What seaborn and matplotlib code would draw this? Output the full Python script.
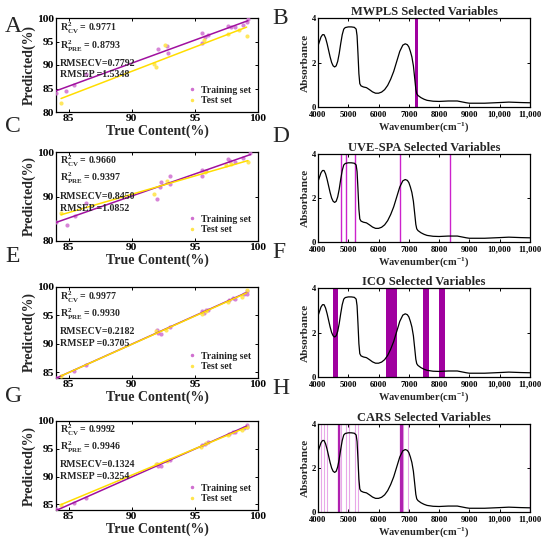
import numpy as np
import pandas as pd

import matplotlib
matplotlib.use('Agg')
import matplotlib.pyplot as plt
from matplotlib.lines import Line2D
import seaborn as sns

# ---- prediction panels (true vs predicted, %) ----
a_train_x = [84.0, 84.8, 85.4, 86.4, 92.1, 92.8, 92.9, 95.6, 95.6, 95.8, 96.0, 97.6, 97.9, 98.2, 98.8, 99.1, 99.2]
a_train_y = [84.0, 84.4, 85.8, 88.1, 93.3, 94.0, 92.5, 96.8, 94.7, 96.0, 96.4, 98.2, 98.0, 98.1, 98.6, 99.2, 99.7]
a_test_x = [84.4, 91.8, 91.9, 92.6, 95.7, 97.6, 98.5, 99.1]
a_test_y = [82.0, 90.2, 89.6, 94.3, 95.4, 96.7, 97.5, 96.2]

c_train_x = [84.0, 84.9, 85.5, 86.4, 92.0, 92.2, 92.3, 93.0, 93.0, 95.6, 95.6, 95.9, 97.6, 97.8, 98.2, 98.8, 99.4]
c_train_y = [84.3, 83.6, 85.7, 88.6, 89.4, 92.2, 93.2, 94.7, 92.9, 96.0, 94.5, 95.8, 98.5, 97.9, 97.8, 98.7, 99.8]
c_test_x = [84.4, 91.8, 92.8, 95.8, 97.5, 97.9, 99.2]
c_test_y = [86.2, 90.6, 93.5, 95.4, 97.0, 97.2, 97.8]

e_train_x = [84.0, 85.4, 86.4, 92.0, 92.1, 92.3, 93.0, 95.6, 95.7, 95.9, 96.0, 97.7, 98.0, 98.2, 98.9, 99.1, 99.1]
e_train_y = [84.0, 85.3, 86.3, 92.4, 92.0, 91.8, 93.0, 95.8, 95.4, 96.0, 95.9, 97.8, 98.0, 97.9, 98.7, 98.8, 99.3]
e_test_x = [84.4, 91.9, 92.7, 95.6, 95.9, 97.6, 98.7, 99.1]
e_test_y = [84.3, 92.2, 92.5, 95.2, 95.7, 97.4, 98.3, 99.4]

g_train_x = [84.0, 85.4, 86.4, 92.0, 92.1, 92.3, 93.0, 95.6, 95.8, 96.0, 97.7, 98.0, 98.2, 98.9, 99.1, 99.1]
g_train_y = [84.1, 85.2, 86.2, 92.2, 92.0, 91.9, 92.9, 95.7, 95.9, 96.2, 97.7, 98.0, 98.1, 98.8, 98.9, 99.2]
g_test_x = [84.4, 91.9, 92.8, 95.5, 95.9, 97.6, 98.7, 99.1]
g_test_y = [84.9, 92.3, 92.8, 95.4, 96.0, 97.4, 98.4, 98.9]

stats_a = ["0.9771", "0.8793", "0.7792", "1.5348"]
stats_c = ["0.9660", "0.9397", "0.8450", "1.0852"]
stats_e = ["0.9977", "0.9930", "0.2182", "0.3705"]
stats_g = ["0.9992", "0.9946", "0.1324", "0.3254"]

# ---- NIR spectrum ----
spectrum_wn = [4000, 4050, 4100, 4150, 4200, 4250, 4300, 4350, 4400, 4450, 4500, 4550, 4600, 4650,
               4700, 4750, 4800, 4850, 4900, 5000, 5100, 5200, 5260, 5290, 5320, 5350, 5380, 5420,
               5500, 5600, 5700, 5800, 5900, 6000, 6100, 6200, 6300, 6400, 6500, 6600, 6700, 6800,
               6880, 6950, 7000, 7050, 7100, 7150, 7200, 7230, 7260, 7300, 7400, 7500, 7600, 7800,
               8000, 8300, 8600, 8750, 8900, 9000, 9500, 10000, 10300, 10700, 11000]
spectrum_abs = [2.75, 2.95, 3.15, 3.25, 3.25, 3.1, 2.85, 2.55, 2.25, 2.0, 1.85, 1.8, 1.85, 2.05,
                2.4, 2.85, 3.25, 3.5, 3.57, 3.6, 3.6, 3.58, 3.5, 3.2, 2.4, 1.5, 1.05, 0.95,
                0.9, 0.87, 0.78, 0.68, 0.62, 0.62, 0.67, 0.78, 0.97, 1.25, 1.6, 2.05, 2.5, 2.78,
                2.84, 2.8, 2.7, 2.5, 2.25, 1.85, 1.2, 0.8, 0.6, 0.52, 0.42, 0.35, 0.3, 0.26,
                0.25, 0.27, 0.27, 0.23, 0.19, 0.17, 0.17, 0.2, 0.22, 0.2, 0.19]

# selected variables
mwpls_bands = [(7190, 7290)]
uvespa_lines = [4774, 4917, 5228, 6721, 8347]
ico_bands = [(4500, 4675), (6245, 6600), (7465, 7650), (7985, 8180)]
cars_dark = [4660, 4680, 4700, 6720, 6740, 6765, 10995]
cars_light = [4110, 4200, 4300, 4775, 4915, 5020, 5215, 5325, 6820, 6965]

train_point = '#d070d0'
train_line = '#a0109f'
test_point = '#ffe54c'
test_line = '#ffdd00'

sns.set_theme(style='ticks')
plt.rcParams['font.family'] = ['Liberation Serif', 'DejaVu Serif']
plt.rcParams['font.weight'] = 'bold'
plt.rcParams['axes.labelweight'] = 'bold'
plt.rcParams['mathtext.fontset'] = 'custom'
plt.rcParams['mathtext.rm'] = 'Liberation Serif:bold'
plt.rcParams['mathtext.it'] = 'Liberation Serif:bold'
plt.rcParams['mathtext.bf'] = 'Liberation Serif:bold'

W, H = 550, 548
fig = plt.figure(figsize=(W / 100, H / 100), dpi=100)


def box(l, t, r, b):
    return [l / W, 1 - b / H, (r - l) / W, (b - t) / H]


def style_axes(ax, tick_size, xpad=1.5):
    for s in ax.spines.values():
        s.set_linewidth(0.9)
        s.set_color('black')
    ax.tick_params(direction='in', top=True, right=True, length=2.5, width=0.7,
                   labelsize=tick_size, pad=1.5, colors='black')
    ax.tick_params(axis='x', pad=xpad)
    for lab in ax.get_xticklabels() + ax.get_yticklabels():
        lab.set_fontweight('bold')


def pred_panel(rect, tx, ty, sx, sy, stats, ylim, yticks, letter, letter_y, text_y):
    ax = fig.add_axes(box(*rect))
    sns.scatterplot(x=tx, y=ty, ax=ax, color=train_point, s=9, linewidth=0, alpha=0.85, zorder=3)
    sns.scatterplot(x=sx, y=sy, ax=ax, color=test_point, s=9, linewidth=0, alpha=0.9, zorder=3)
    sns.regplot(x=tx, y=ty, ax=ax, scatter=False, ci=None, color=train_line, line_kws={'lw': 1.1, 'zorder': 4})
    sns.regplot(x=sx, y=sy, ax=ax, scatter=False, ci=None, color=test_line, line_kws={'lw': 1.1, 'zorder': 4})
    ax.set_xlim(84, 100)
    ax.set_ylim(*ylim)
    ax.set_xticks([85, 90, 95, 100])
    ax.set_yticks(yticks)
    ax.set_xlabel('True Content(%)', fontsize=10, labelpad=1)
    ax.set_ylabel('Predicted(%)', fontsize=10, labelpad=1)
    style_axes(ax, 8.2)
    kw = dict(transform=ax.transAxes, fontsize=7.1, fontweight='bold', va='center', ha='left', zorder=5)
    ax.text(0.02, text_y[0], r'$\mathrm{R^2_{CV}}$ = ' + stats[0], **kw)
    ax.text(0.02, text_y[1], r'$\mathrm{R^2_{PRE}}$ = ' + stats[1], **kw)
    ax.text(0.02, text_y[2], 'RMSECV=' + stats[2], **kw)
    ax.text(0.02, text_y[3], 'RMSEP =' + stats[3], **kw)
    handles = [Line2D([], [], ls='none', marker='.', ms=3, color=train_point, label='Training set'),
               Line2D([], [], ls='none', marker='.', ms=3, color=test_point, label='Test set')]
    ax.legend(handles=handles, loc='lower right', frameon=False,
              handlelength=0.8, handletextpad=0.5, labelspacing=0.15, borderaxespad=0.3,
              prop={'weight': 'bold', 'size': 7})
    fig.text(5 / W, 1 - letter_y / H, letter, fontsize=17, fontweight='normal', va='center', ha='left')
    return ax


def spec_panel(rect, title, letter, letter_y):
    ax = fig.add_axes(box(*rect))
    sns.lineplot(x=spectrum_wn, y=spectrum_abs, ax=ax, color='black', lw=0.9, zorder=3)
    ax.set_xlim(4000, 11000)
    ax.set_ylim(0, 4)
    ax.set_xticks(range(4000, 11001, 1000))
    ax.set_xticklabels(['4000', '5000', '6000', '7000', '8000', '9000', '10,000', '11,000'])
    ax.set_yticks([0, 2, 4])
    ax.set_xlabel(r'Wavenumber(cm$^{\mathbf{-1}}$)', fontsize=7.6, labelpad=1)
    ax.set_ylabel('Absorbance', fontsize=8.2, labelpad=1)
    ax.set_title(title, fontsize=9, fontweight='bold', pad=2)
    style_axes(ax, 6.2, xpad=2.8)
    fig.text(272 / W, 1 - letter_y / H, letter, fontsize=17, fontweight='normal', va='center', ha='left')
    return ax


pred_panel((56, 18, 258, 112), a_train_x, a_train_y, a_test_x, a_test_y, stats_a,
           (80, 100), [80, 85, 90, 95, 100], 'A', 26, (0.89, 0.70, 0.52, 0.40))
pred_panel((56, 152, 258, 241), c_train_x, c_train_y, c_test_x, c_test_y, stats_c,
           (80, 100), [80, 90, 100], 'C', 126, (0.89, 0.70, 0.50, 0.37))
pred_panel((56, 287, 258, 378), e_train_x, e_train_y, e_test_x, e_test_y, stats_e,
           (84, 100), [85, 90, 95, 100], 'E', 256, (0.89, 0.70, 0.51, 0.38))
pred_panel((56, 421, 258, 510), g_train_x, g_train_y, g_test_x, g_test_y, stats_g,
           (84, 100), [85, 90, 95, 100], 'G', 396, (0.89, 0.70, 0.51, 0.38))

axb = spec_panel((318, 18, 530, 107), 'MWPLS Selected Variables', 'B', 18)
for lo, hi in mwpls_bands:
    axb.axvspan(lo, hi, color='#a0009f', lw=0, zorder=2)

axd = spec_panel((318, 154, 530, 242), 'UVE-SPA Selected Variables', 'D', 136)
for wn in uvespa_lines:
    axd.axvline(wn, color='#cc22cc', lw=1.0, zorder=2)

axf = spec_panel((318, 288, 530, 377), 'ICO Selected Variables', 'F', 252)
for lo, hi in ico_bands:
    axf.axvspan(lo, hi, color='#a0009f', lw=0, zorder=2)

axh = spec_panel((318, 424, 530, 512), 'CARS Selected Variables', 'H', 388)
for wn in cars_light:
    axh.axvline(wn, color='#e8a8e8', lw=0.8, zorder=2)
for wn in cars_dark:
    axh.axvline(wn, color='#b020b0', lw=0.9, zorder=2)

fig.savefig('out.png', dpi=100)
plt.close(fig)
